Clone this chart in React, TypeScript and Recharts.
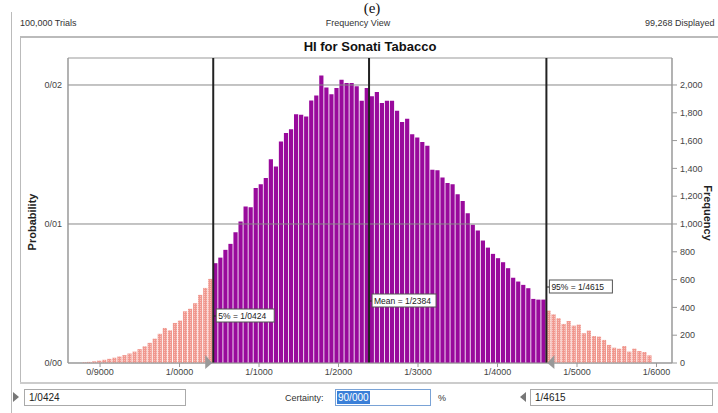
import React from "react"
import { ComposedChart, Bar, Line, Cell, XAxis, YAxis, ReferenceLine, ReferenceArea } from "recharts"

// frequencies per bin (left tail, certainty range, right tail)
const leftTail = [5, 8, 12, 17, 23, 30, 38, 47, 57, 68, 82, 100, 120, 145, 175, 210, 252, 235, 288, 305, 372, 390, 430, 490, 540, 605]
const body = [
  718, 758, 814, 857, 941, 1018, 1126, 1121, 1258, 1286, 1330, 1466, 1414, 1594, 1654, 1682, 1790, 1786, 1774, 1889,
  1925, 2069, 1982, 1934, 1978, 2038, 2014, 2014, 1990, 1886, 1978, 1918, 1950, 1870, 1886, 1886, 1814, 1733, 1757, 1646,
  1622, 1589, 1562, 1390, 1387, 1334, 1294, 1286, 1214, 1166, 1078, 994, 953, 881, 830, 785, 754, 725, 682, 614,
  586, 562, 538, 461, 456, 456,
]
const rightTail = [377, 350, 322, 281, 302, 269, 276, 214, 233, 194, 190, 166, 130, 110, 103, 122, 82, 103, 86, 79, 55]

const trials = 100000
const binStart = 0.8773
const binWidth = 0.00635

const xTicks = [0.9, 1.0, 1.1, 1.2, 1.3, 1.4, 1.5, 1.6]
const probTicks = [0, 0.01, 0.02]
const freqTicks = [0, 200, 400, 600, 800, 1000, 1200, 1400, 1600, 1800, 2000]

const lowCut = 1.0424
const meanValue = 1.2384
const highCut = 1.4615

const bins = [
  ...leftTail.map((freq) => ({ freq, tail: true })),
  ...body.map((freq) => ({ freq, tail: false })),
  ...rightTail.map((freq) => ({ freq, tail: true })),
].map((b, i) => ({ x: binStart + (i + 0.5) * binWidth, freq: b.freq, prob: b.freq / trials, tail: b.tail }))

const FONT = "'Liberation Sans', Arial, sans-serif"
const fmtX = (v: number) => v.toFixed(4).replace(".", "/")
const fmtP = (v: number) => v.toFixed(2).replace(".", "/")

function CutLabel(props: any) {
  const { viewBox, text, top, boxW, arrow } = props
  const x = viewBox.x
  const bottom = viewBox.y + viewBox.height
  return (
    <g>
      <line x1={x} x2={x + 4} y1={top + 7} y2={top + 7} stroke="#222" />
      <rect x={x + 3} y={top} width={boxW} height={13} fill="#fff" stroke="#555" />
      <text x={x + 5} y={top + 10} fontSize={8.5} fontFamily={FONT} fill="#222">
        {text}
      </text>
      {arrow === "right" && (
        <polygon points={`${x - 8},${bottom - 8} ${x - 1},${bottom} ${x - 8},${bottom + 6}`} fill="#999" />
      )}
      {arrow === "left" && (
        <polygon points={`${x + 8},${bottom - 8} ${x + 1},${bottom} ${x + 8},${bottom + 6}`} fill="#999" />
      )}
    </g>
  )
}

export default function App() {
  return (
    <div style={{ position: "relative", width: 718, height: 413, overflow: "hidden", background: "#fff" }}>
      <style>{"body{margin:0}"}</style>
      <svg width={0} height={0} style={{ position: "absolute" }}>
        <defs>
          <pattern id="tailDots" width="2" height="2" patternUnits="userSpaceOnUse">
            <rect width="2" height="2" fill="#f0978e" />
            <rect width="1" height="1" fill="#f7bfb9" />
          </pattern>
        </defs>
      </svg>
      <ComposedChart width={718} height={413} data={bins} margin={{ top: 58, right: 6, bottom: 30, left: 28 }}>
        <XAxis
          type="number"
          dataKey="x"
          domain={[0.8597, 1.6195]}
          ticks={xTicks}
          allowDataOverflow
          tickFormatter={fmtX}
          tick={{ fontSize: 9, fill: "#444", fontFamily: FONT }}
          axisLine={{ stroke: "#999" }}
          tickLine={{ stroke: "#999" }}
          tickSize={4}
          height={20}
        />
        <YAxis
          yAxisId="prob"
          domain={[0, 0.021942]}
          ticks={probTicks}
          allowDataOverflow
          tickFormatter={fmtP}
          tick={{ fontSize: 9, fill: "#444", fontFamily: FONT }}
          axisLine={{ stroke: "#999" }}
          tickLine={false}
          tickSize={0}
          tickMargin={6}
          width={40}
        />
        <YAxis
          yAxisId="freq"
          orientation="right"
          domain={[0, 2194]}
          ticks={freqTicks}
          allowDataOverflow
          tickFormatter={(v: number) => v.toLocaleString("en-US")}
          tick={{ fontSize: 9, fill: "#444", fontFamily: FONT }}
          axisLine={{ stroke: "#999" }}
          tickLine={{ stroke: "#999" }}
          tickSize={5}
          tickMargin={3}
          width={40}
        />
        <ReferenceArea yAxisId="prob" x1={0.8597} x2={1.6195} y1={0} y2={0.021942} fill="none" stroke="#999" />
        <ReferenceLine yAxisId="prob" y={0.01} stroke="#888" />
        <ReferenceLine yAxisId="prob" y={0.02} stroke="#888" />
        <Bar yAxisId="freq" dataKey="freq" barSize={4.2} isAnimationActive={false}>
          {bins.map((b, i) => (
            <Cell key={`bin-${i}`} fill={b.tail ? "url(#tailDots)" : "#990a9c"} />
          ))}
        </Bar>
        <Line
          yAxisId="prob"
          dataKey="prob"
          stroke="none"
          dot={false}
          activeDot={false}
          legendType="none"
          isAnimationActive={false}
        />
        <ReferenceLine
          yAxisId="prob"
          x={lowCut}
          stroke="#222"
          strokeWidth={2}
          label={<CutLabel text="5% = 1/0424" top={309} boxW={58} arrow="right" />}
        />
        <ReferenceLine
          yAxisId="prob"
          x={meanValue}
          stroke="#222"
          strokeWidth={2}
          label={<CutLabel text="Mean = 1/2384" top={294} boxW={64} />}
        />
        <ReferenceLine
          yAxisId="prob"
          x={highCut}
          stroke="#222"
          strokeWidth={2}
          label={<CutLabel text="95% = 1/4615" top={280} boxW={63} arrow="left" />}
        />
      </ComposedChart>

      <svg
        width={718}
        height={413}
        style={{ position: "absolute", left: 0, top: 0, pointerEvents: "none" }}
        fontFamily={FONT}
      >
        <text x={372} y={13} fontSize={15} fontFamily="'Liberation Serif', serif" textAnchor="middle" fill="#111">
          (e)
        </text>
        <line x1={11.5} x2={11.5} y1={12} y2={413} stroke="#bbb" />
        <text x={20} y={26} fontSize={9} fill="#333">100,000 Trials</text>
        <text x={358} y={26} fontSize={9} fill="#333" textAnchor="middle">Frequency View</text>
        <text x={645} y={26} fontSize={9} fill="#333">99,268 Displayed</text>
        <line x1={20} x2={718} y1={37} y2={37} stroke="#bbb" strokeWidth={2} />
        <line x1={20.5} x2={20.5} y1={37} y2={383} stroke="#bbb" />
        <line x1={20} x2={718} y1={383} y2={383} stroke="#ccc" strokeWidth={2} />
        <text x={370} y={51} fontSize={13} fontWeight="bold" textAnchor="middle" fill="#111">
          HI for Sonati Tabacco
        </text>
        <text
          x={36}
          y={222}
          fontSize={11}
          fontWeight="bold"
          textAnchor="middle"
          fill="#222"
          transform="rotate(-90 36 222)"
        >
          Probability
        </text>
        <text
          x={704}
          y={213}
          fontSize={11}
          fontWeight="bold"
          textAnchor="middle"
          fill="#222"
          transform="rotate(90 704 213)"
        >
          Frequency
        </text>

        <polygon points="13,392 19,397 13,402" fill="#777" />
        <rect x={24.5} y={389.5} width={161} height={16} fill="#fff" stroke="#aaa" />
        <text x={29} y={401} fontSize={10} fill="#222">1/0424</text>
        <text x={285} y={401} fontSize={9} fill="#333">Certainty:</text>
        <rect x={335.5} y={389.5} width={95} height={16} fill="#fff" stroke="#7aa3d6" />
        <rect x={337} y={391} width={33} height={13} fill="#3a7fd8" />
        <text x={338} y={401} fontSize={10} fill="#fff">90/000</text>
        <text x={438} y={401} fontSize={9} fill="#333">%</text>
        <polygon points="526,392 520,397 526,402" fill="#777" />
        <rect x={530.5} y={389.5} width={182} height={16} fill="#fff" stroke="#aaa" />
        <text x={535} y={401} fontSize={10} fill="#222">1/4615</text>
      </svg>
    </div>
  )
}
